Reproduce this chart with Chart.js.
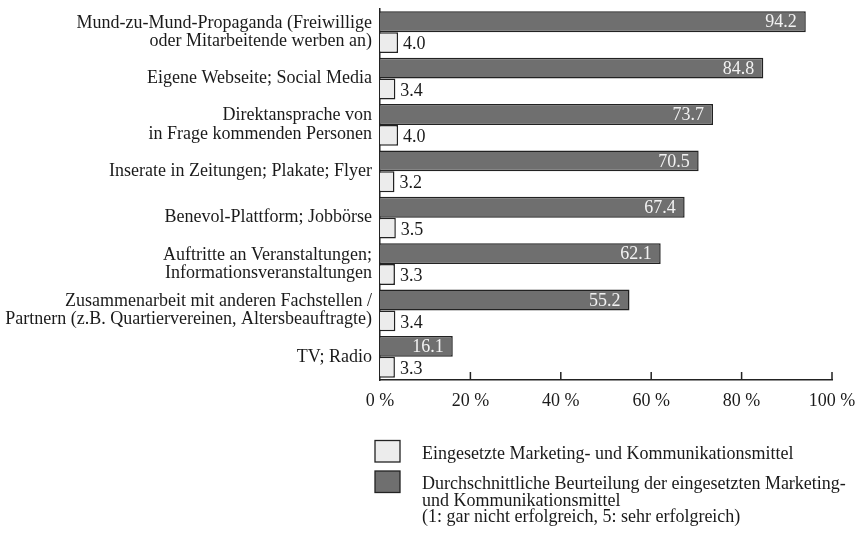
<!DOCTYPE html>
<html>
<head>
<meta charset="utf-8">
<script src="https://cdn.jsdelivr.net/npm/chart.js@4"></script>
<style>
html,body{margin:0;padding:0;background:#fff;}
#wrap{width:858px;height:537px;}
</style>
</head>
<body>
<div id="wrap"><canvas id="c" width="858" height="537"></canvas></div>
<script>
const categories = [
  ["Mund-zu-Mund-Propaganda (Freiwillige", "oder Mitarbeitende werben an)"],
  ["Eigene Webseite; Social Media"],
  ["Direktansprache von", "in Frage kommenden Personen"],
  ["Inserate in Zeitungen; Plakate; Flyer"],
  ["Benevol-Plattform; Jobbörse"],
  ["Auftritte an Veranstaltungen;", "Informationsveranstaltungen"],
  ["Zusammenarbeit mit anderen Fachstellen /", "Partnern (z.B. Quartiervereinen, Altersbeauftragte)"],
  ["TV; Radio"]
];
const darkValues = [94.2, 84.8, 73.7, 70.5, 67.4, 62.1, 55.2, 16.1];
const lightValues = [4.0, 3.4, 4.0, 3.2, 3.5, 3.3, 3.4, 3.3];
const tickValues = [0, 20, 40, 60, 80, 100];
const lightLegend = ["Eingesetzte Marketing- und Kommunikationsmittel"];
const darkLegend = ["Durchschnittliche Beurteilung der eingesetzten Marketing-", "und Kommunikationsmittel", "(1: gar nicht erfolgreich, 5: sehr erfolgreich)"];

const FONT = "'Liberation Serif', 'Times New Roman', serif";
const FS = 18;
const TEXT = '#1a1a1a';
const DARK = '#6f6f6f';
const LIGHT = '#ececec';
const EDGE = '#222222';

Chart.defaults.font.family = FONT;
Chart.defaults.font.size = FS;
Chart.defaults.color = TEXT;

const valueLabels = {
  id: 'valueLabels',
  afterDatasetsDraw(chart) {
    const ctx = chart.ctx;
    ctx.save();
    ctx.font = FS + 'px ' + FONT;
    ctx.textBaseline = 'middle';
    chart.data.datasets.forEach((ds, di) => {
      const meta = chart.getDatasetMeta(di);
      meta.data.forEach((bar, i) => {
        const v = ds.data[i];
        const txt = v.toFixed(1);
        if (ds.inside) {
          ctx.textAlign = 'right';
          ctx.fillStyle = '#f2f2f2';
          ctx.fillText(txt, bar.x - 9, bar.y + 1);
        } else {
          ctx.textAlign = 'left';
          ctx.fillStyle = TEXT;
          ctx.fillText(txt, bar.x + 5, bar.y + 2);
        }
      });
    });
    ctx.restore();
  }
};

const innerTicks = {
  id: 'innerTicks',
  afterDraw(chart) {
    const xs = chart.scales.x;
    const ctx = chart.ctx;
    ctx.save();
    ctx.strokeStyle = '#222';
    ctx.lineWidth = 1.5;
    tickValues.forEach(t => {
      if (t === 0) return;
      const px = xs.getPixelForValue(t);
      ctx.beginPath();
      ctx.moveTo(px, xs.top);
      ctx.lineTo(px, xs.top - 8);
      ctx.stroke();
    });
    ctx.restore();
  }
};

const customLegend = {
  id: 'customLegend',
  afterDraw(chart) {
    const ctx = chart.ctx;
    const items = [
      {fill: chart.data.datasets[1].backgroundColor, lines: lightLegend},
      {fill: chart.data.datasets[0].backgroundColor, lines: darkLegend}
    ];
    const boxX = 375, textX = 422, lineH = 16.7;
    let y = 440.5;
    ctx.save();
    ctx.font = FS + 'px ' + FONT;
    ctx.textBaseline = 'alphabetic';
    ctx.textAlign = 'left';
    items.forEach(it => {
      ctx.fillStyle = it.fill;
      ctx.fillRect(boxX, y, 25, 21.5);
      ctx.strokeStyle = EDGE;
      ctx.lineWidth = 1.3;
      ctx.strokeRect(boxX, y, 25, 21.5);
      ctx.fillStyle = TEXT;
      it.lines.forEach((ln, k) => {
        ctx.fillText(ln, textX, y + 18 + k * lineH);
      });
      y += 30.5;
    });
    ctx.restore();
  }
};

new Chart(document.getElementById('c'), {
  type: 'bar',
  data: {
    labels: categories,
    datasets: [
      {
        label: darkLegend.join(' '),
        data: darkValues,
        backgroundColor: DARK,
        borderColor: EDGE,
        borderWidth: 1.5,
        inside: true,
        categoryPercentage: 0.9,
        barPercentage: 1.0
      },
      {
        label: lightLegend.join(' '),
        data: lightValues,
        backgroundColor: LIGHT,
        borderColor: EDGE,
        borderWidth: 1.5,
        inside: false,
        categoryPercentage: 0.9,
        barPercentage: 1.0
      }
    ]
  },
  options: {
    indexAxis: 'y',
    responsive: false,
    animation: false,
    layout: {padding: {top: 9, right: 26, bottom: 117, left: 0}},
    plugins: {
      legend: {display: false},
      tooltip: {enabled: false}
    },
    scales: {
      x: {
        min: 0,
        max: 100,
        afterBuildTicks(scale) {
          scale.ticks = tickValues.map(v => ({value: v}));
        },
        ticks: {
          callback: v => v + ' %',
          padding: 10,
          font: {size: FS},
          color: TEXT,
          maxRotation: 0
        },
        grid: {display: false, drawTicks: false},
        border: {display: true, color: '#222', width: 1.5},
        afterFit(scale) {
          scale.height = 40;
          scale.paddingLeft = 0;
          scale.paddingRight = 0;
        }
      },
      y: {
        ticks: {
          padding: 8,
          font: {size: FS, lineHeight: 1.02},
          color: TEXT,
          autoSkip: false
        },
        grid: {display: false, drawTicks: false},
        border: {display: true, color: '#222', width: 1.5},
        afterFit(scale) {
          scale.width = 380;
          scale.paddingTop = 0;
          scale.paddingBottom = 0;
        }
      }
    }
  },
  plugins: [valueLabels, innerTicks, customLegend]
});
</script>
</body>
</html>
